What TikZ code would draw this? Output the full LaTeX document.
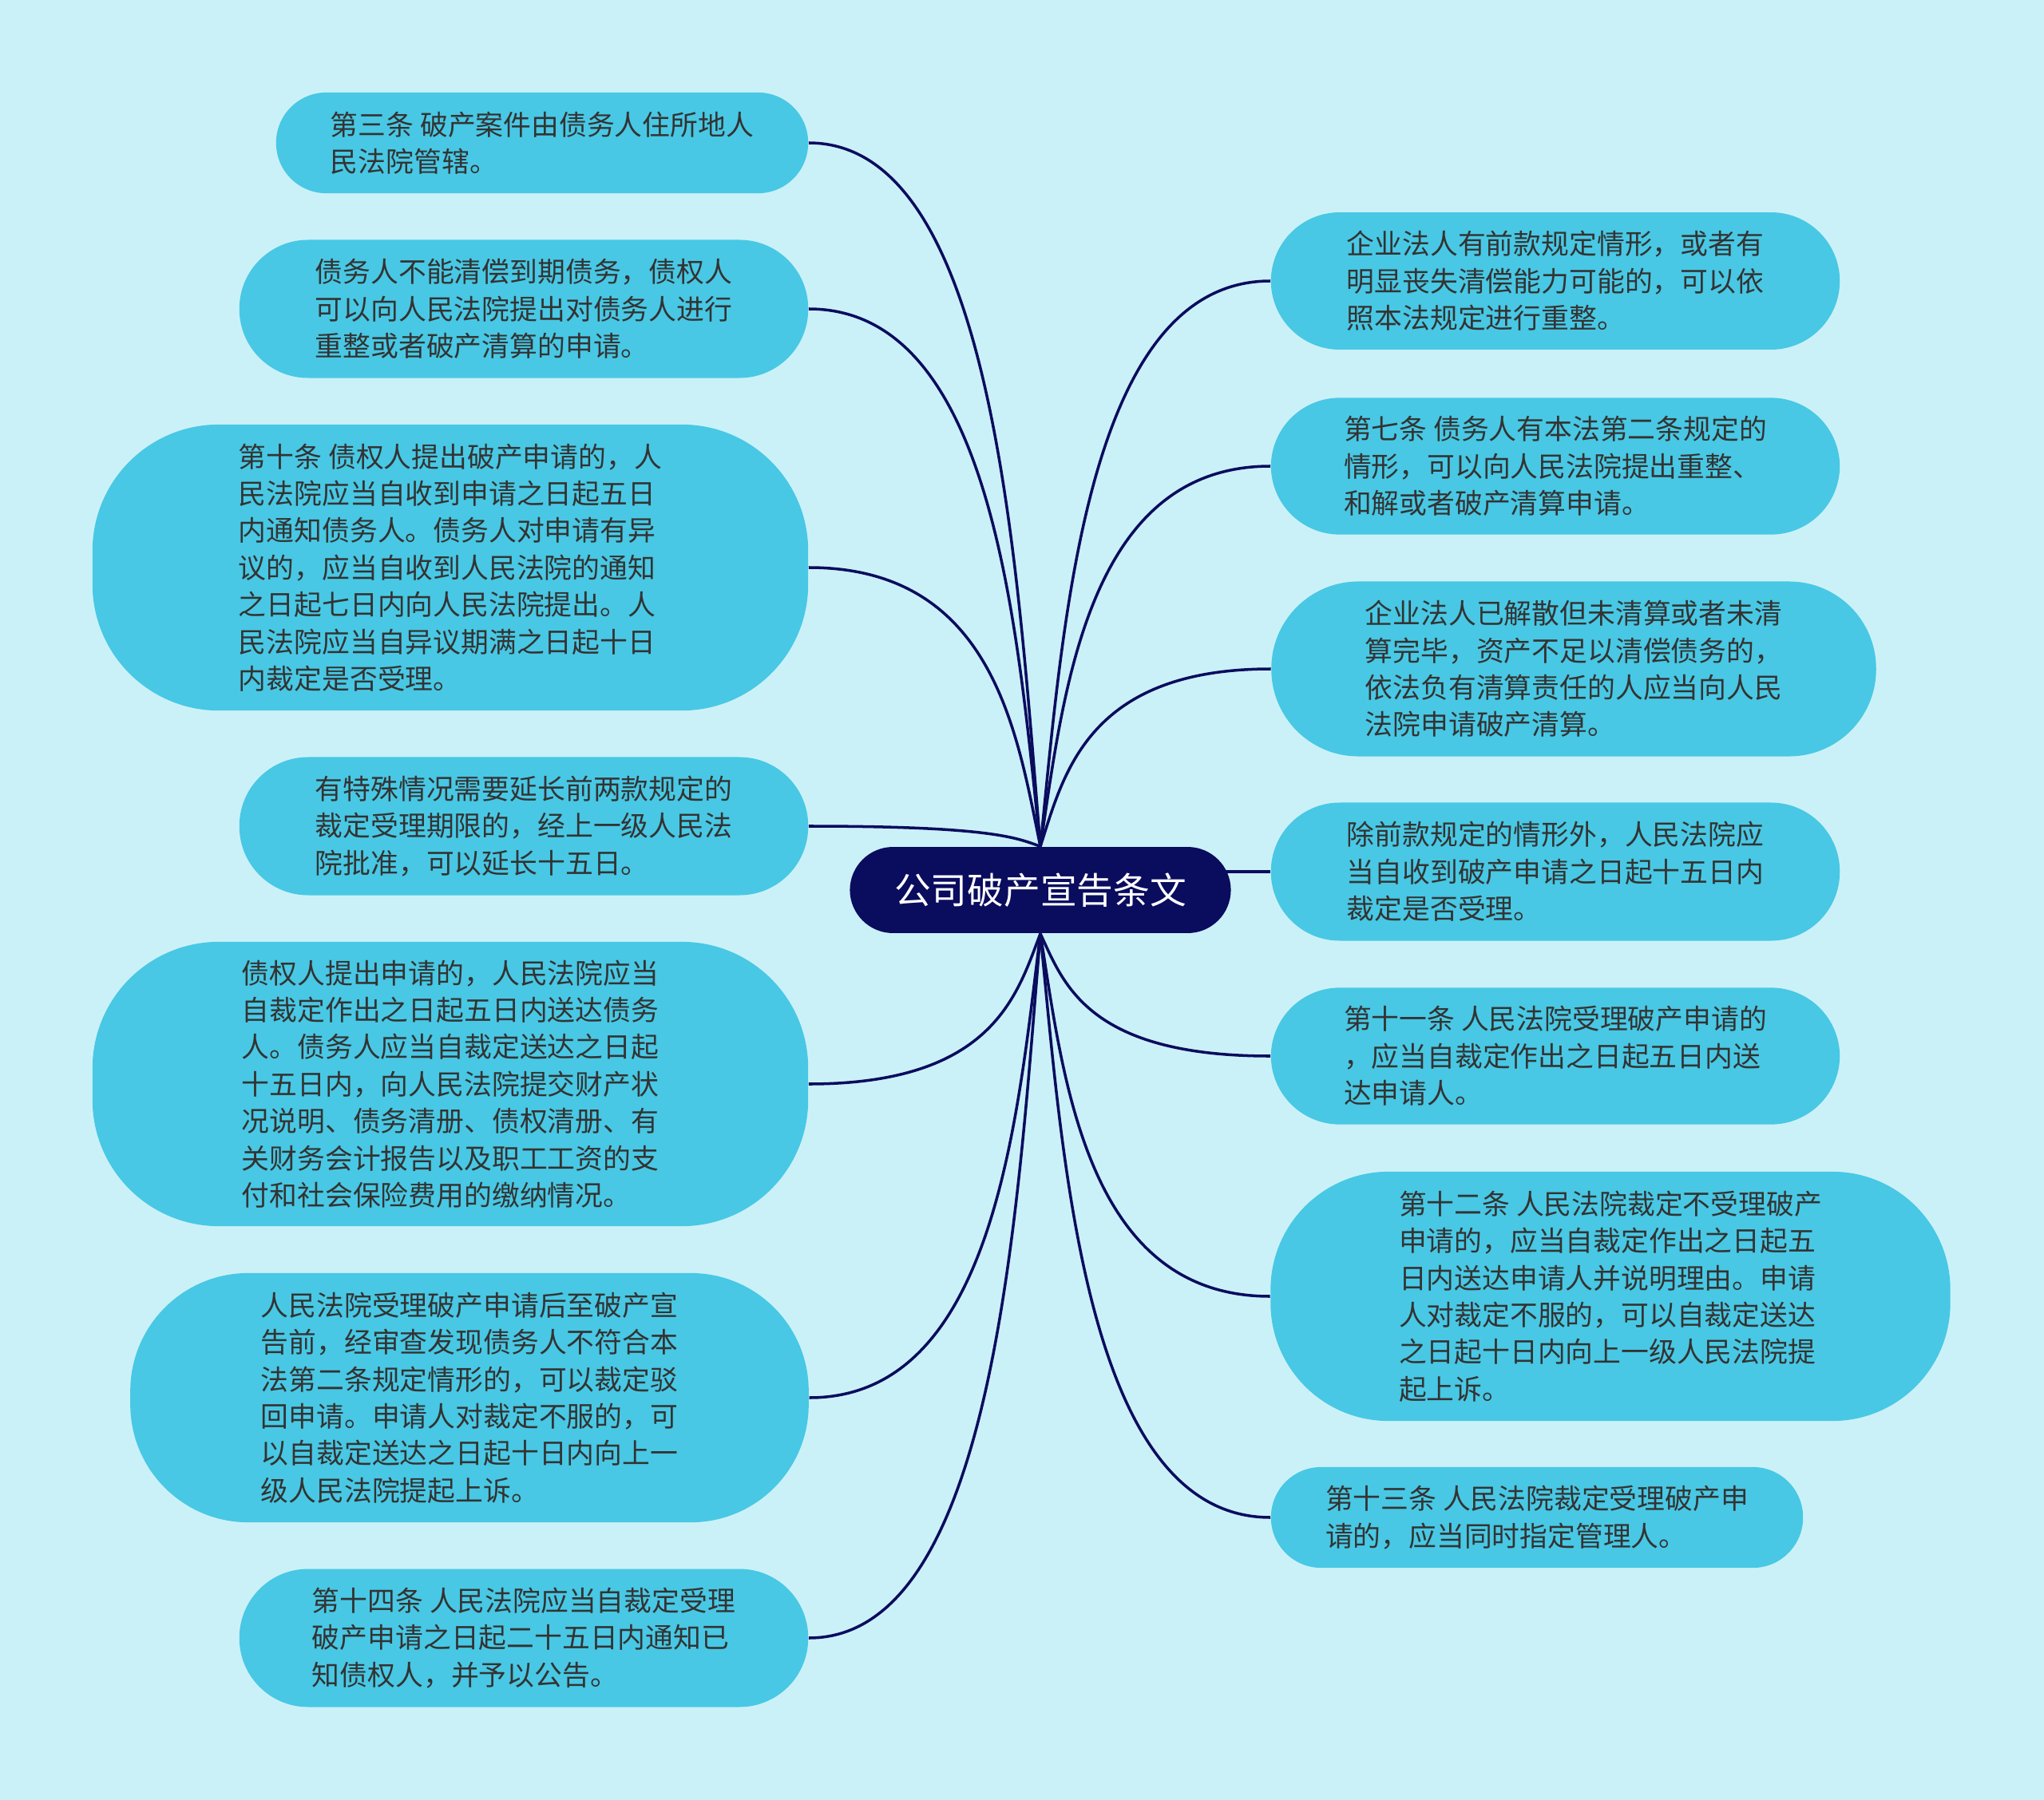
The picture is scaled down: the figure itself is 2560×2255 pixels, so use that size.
\documentclass[tikz,border=0pt]{standalone}
\usepackage{fontspec}
\newfontfamily\cjk{Noto Sans CJK SC}
\usetikzlibrary{backgrounds,calc}
\definecolor{bgcyan}{HTML}{CBF1F8}
\definecolor{leafblue}{HTML}{48C8E4}
\definecolor{rootnavy}{HTML}{0A0C5E}
\definecolor{leaftext}{HTML}{333333}

\begin{document}
\begin{tikzpicture}[x=0.01cm,y=-0.01cm,
  leaf/.style={fill=leafblue,rounded corners=#1,align=left,text=leaftext,
    inner sep=0pt,font=\cjk\fontsize{9.9}{13.2}\selectfont},
  leaf/.default=24.5pt,
  link/.style={draw=rootnavy,line width=1pt}]
  \begin{scope}[on background layer]
    \fill[bgcyan] (0,0) rectangle (2560,2255);
  \end{scope}
  \useasboundingbox (0,0) rectangle (2560,2255);

  \node[fill=rootnavy,text=white,rounded corners=15.4pt,minimum width=135.7pt,
    minimum height=30.7pt,font=\cjk\fontsize{13}{16}\selectfont]
    (root) at (1303,1115) {公司破产宣告条文};

  % left side
  \node[leaf=17.9pt,minimum width=189.5pt,minimum height=35.9pt] (l1) at (679,179)
    {第三条 破产案件由债务人住所地人\\民法院管辖。};
  \node[leaf,minimum width=202.6pt,minimum height=49.2pt] (l2) at (656,387)
    {债务人不能清偿到期债务，债权人\\可以向人民法院提出对债务人进行\\重整或者破产清算的申请。};
  \node[leaf=45pt,minimum width=254.9pt,minimum height=101.9pt] (l3) at (564,711)
    {第十条 债权人提出破产申请的，人\\民法院应当自收到申请之日起五日\\内通知债务人。债务人对申请有异\\议的，应当自收到人民法院的通知\\之日起七日内向人民法院提出。人\\民法院应当自异议期满之日起十日\\内裁定是否受理。};
  \node[leaf,minimum width=202.6pt,minimum height=49.2pt] (l4) at (656,1035)
    {有特殊情况需要延长前两款规定的\\裁定受理期限的，经上一级人民法\\院批准，可以延长十五日。};
  \node[leaf=45pt,minimum width=254.9pt,minimum height=101.3pt] (l5) at (564,1358)
    {债权人提出申请的，人民法院应当\\自裁定作出之日起五日内送达债务\\人。债务人应当自裁定送达之日起\\十五日内，向人民法院提交财产状\\况说明、债务清册、债权清册、有\\关财务会计报告以及职工工资的支\\付和社会保险费用的缴纳情况。};
  \node[leaf=42pt,minimum width=241.6pt,minimum height=88.8pt] (l6) at (588,1751)
    {人民法院受理破产申请后至破产宣\\告前，经审查发现债务人不符合本\\法第二条规定情形的，可以裁定驳\\回申请。申请人对裁定不服的，可\\以自裁定送达之日起十日内向上一\\级人民法院提起上诉。};
  \node[leaf,minimum width=202.6pt,minimum height=49.2pt] (l7) at (656,2052)
    {第十四条 人民法院应当自裁定受理\\破产申请之日起二十五日内通知已\\知债权人，并予以公告。};

  % right side
  \node[leaf,minimum width=202.6pt,minimum height=48.9pt] (r1) at (1948,352)
    {企业法人有前款规定情形，或者有\\明显丧失清偿能力可能的，可以依\\照本法规定进行重整。};
  \node[leaf,minimum width=202.6pt,minimum height=48.7pt] (r2) at (1948,584)
    {第七条 债务人有本法第二条规定的\\情形，可以向人民法院提出重整、\\和解或者破产清算申请。};
  \node[leaf=31pt,minimum width=215.4pt,minimum height=62.3pt] (r3) at (1971,838)
    {企业法人已解散但未清算或者未清\\算完毕，资产不足以清偿债务的，\\依法负有清算责任的人应当向人民\\法院申请破产清算。};
  \node[leaf,minimum width=202.6pt,minimum height=49.2pt] (r4) at (1948,1092)
    {除前款规定的情形外，人民法院应\\当自收到破产申请之日起十五日内\\裁定是否受理。};
  \node[leaf,minimum width=202.6pt,minimum height=48.7pt] (r5) at (1948,1323)
    {第十一条 人民法院受理破产申请的\\，应当自裁定作出之日起五日内送\\达申请人。};
  \node[leaf=42pt,minimum width=242.1pt,minimum height=88.8pt] (r6) at (2017,1624)
    {第十二条 人民法院裁定不受理破产\\申请的，应当自裁定作出之日起五\\日内送达申请人并说明理由。申请\\人对裁定不服的，可以自裁定送达\\之日起十日内向上一级人民法院提\\起上诉。};
  \node[leaf=17.9pt,minimum width=189.5pt,minimum height=35.9pt] (r7) at (1925,1901)
    {第十三条 人民法院裁定受理破产申\\请的，应当同时指定管理人。};

  % connectors
  \begin{scope}[on background layer]
    \foreach \s/\nd/\a in {north/l1/east,north/l2/east,north/l3/east,north/l4/east,
        north/r1/west,north/r2/west,north/r3/west,
        south/l5/east,south/l6/east,south/l7/east,
        south/r5/west,south/r6/west,south/r7/west}
      \draw[link] let \p1=(root.\s), \p2=(\nd.\a) in (\p1)
        .. controls ({\x1+.1*(\x2-\x1)},{\y1+.4*(\y2-\y1)})
        and ({\x1+.2*(\x2-\x1)},\y2) .. (\p2);
    \draw[link] (r4.west) -- (root.center |- r4.west);
  \end{scope}
\end{tikzpicture}
\end{document}
